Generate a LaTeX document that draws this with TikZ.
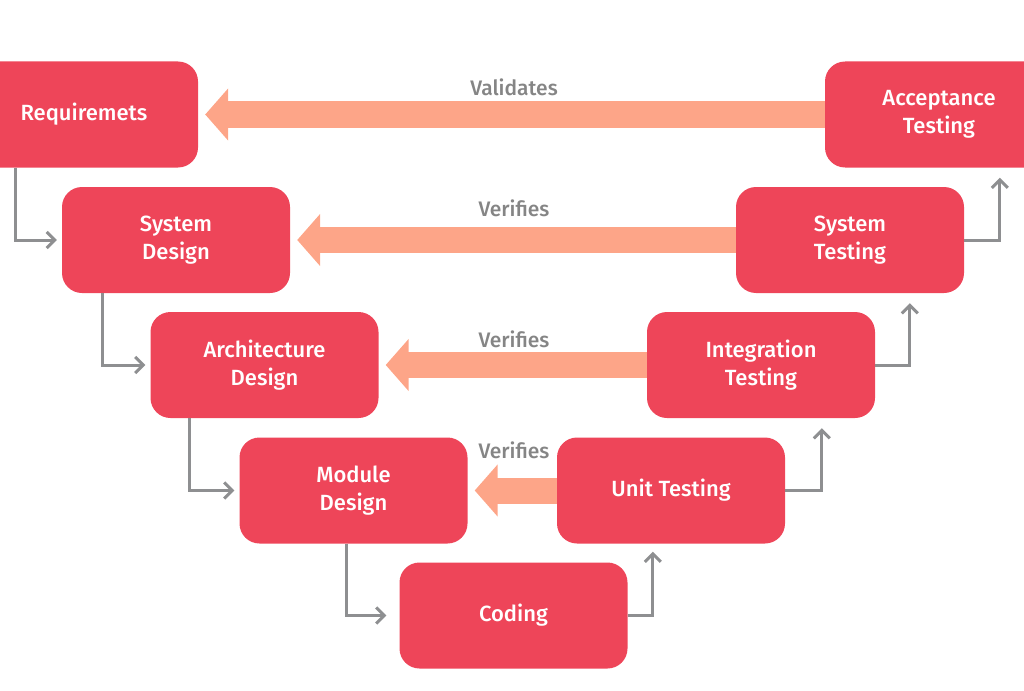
\documentclass[tikz,border=0pt]{standalone}
\usepackage{fontspec}
\setmainfont{Fira Sans}[UprightFont=* Medium]
\usetikzlibrary{arrows.meta,calc}
\definecolor{boxred}{HTML}{EE4559}
\definecolor{fatarrow}{HTML}{FDA588}
\definecolor{conngray}{HTML}{8E8F91}
\definecolor{labgray}{HTML}{858585}
\tikzset{
  stage/.style={fill=boxred, rounded corners=20pt, minimum width=228pt, minimum height=106pt,
    inner sep=0pt, text=white, align=center, font=\fontsize{22}{28}\selectfont},
  fat/.style={draw=fatarrow, line width=26pt, -{Triangle[length=23pt,width=51pt]}, shorten >=7pt},
  conn/.style={draw=conngray, line width=3pt, -{Straight Barb[length=8pt,width=16pt,line width=3pt]}},
  lab/.style={text=labgray, font=\fontsize{21}{22}\selectfont}
}
\begin{document}
\begin{tikzpicture}[x=1pt,y=-1pt]
\useasboundingbox (0,0) rectangle (1024,690);
\node[stage] (req) at (84,114.5) {\raisebox{5pt}{Requiremets}};
\node[stage] (sd) at (176,240) {System\\Design};
\node[stage] (ad) at (264.5,365) {Architecture\\Design};
\node[stage] (md) at (353.5,490.5) {Module\\Design};
\node[stage] (cod) at (513.5,615.5) {Coding};
\node[stage] (ut) at (671,490.5) {Unit Testing};
\node[stage] (it) at (761,365) {Integration\\Testing};
\node[stage] (st) at (850,240) {System\\Testing};
\node[stage] (at) at (939,114.5) {Acceptance\\Testing};
% fat arrows
\draw[fat] (at.west) -- (req.east);
\draw[fat] (st.west) -- (sd.east);
\draw[fat] (it.west) -- (ad.east);
\draw[fat] (ut.west) -- (md.east);
\node[lab] (v0) at (514,87) {Validates};
\node[lab] (v1) at (514,208) {Verifies};
\node[lab] (v2) at (514,339) {Verifies};
\node[lab] (v3) at (514,450) {Verifies};
% left connectors
\draw[conn, shorten >=5pt] ([xshift=46pt]req.south west) |- (sd.west);
\draw[conn, shorten >=5pt] ([xshift=41pt]sd.south west) |- (ad.west);
\draw[conn, shorten >=5pt] ([xshift=39pt]ad.south west) |- (md.west);
\draw[conn, shorten >=13pt] ([xshift=107pt]md.south west) |- (cod.west);
% right connectors
\draw[conn, shorten >=8pt] (cod.east) -| ([xshift=96pt]ut.south west);
\draw[conn, shorten >=10pt] (ut.east) -| ([xshift=175pt]it.south west);
\draw[conn, shorten >=10pt] (it.east) -| ([xshift=174pt]st.south west);
\draw[conn, shorten >=10pt] (st.east) -| ([xshift=175pt]at.south west);
\end{tikzpicture}
\end{document}
